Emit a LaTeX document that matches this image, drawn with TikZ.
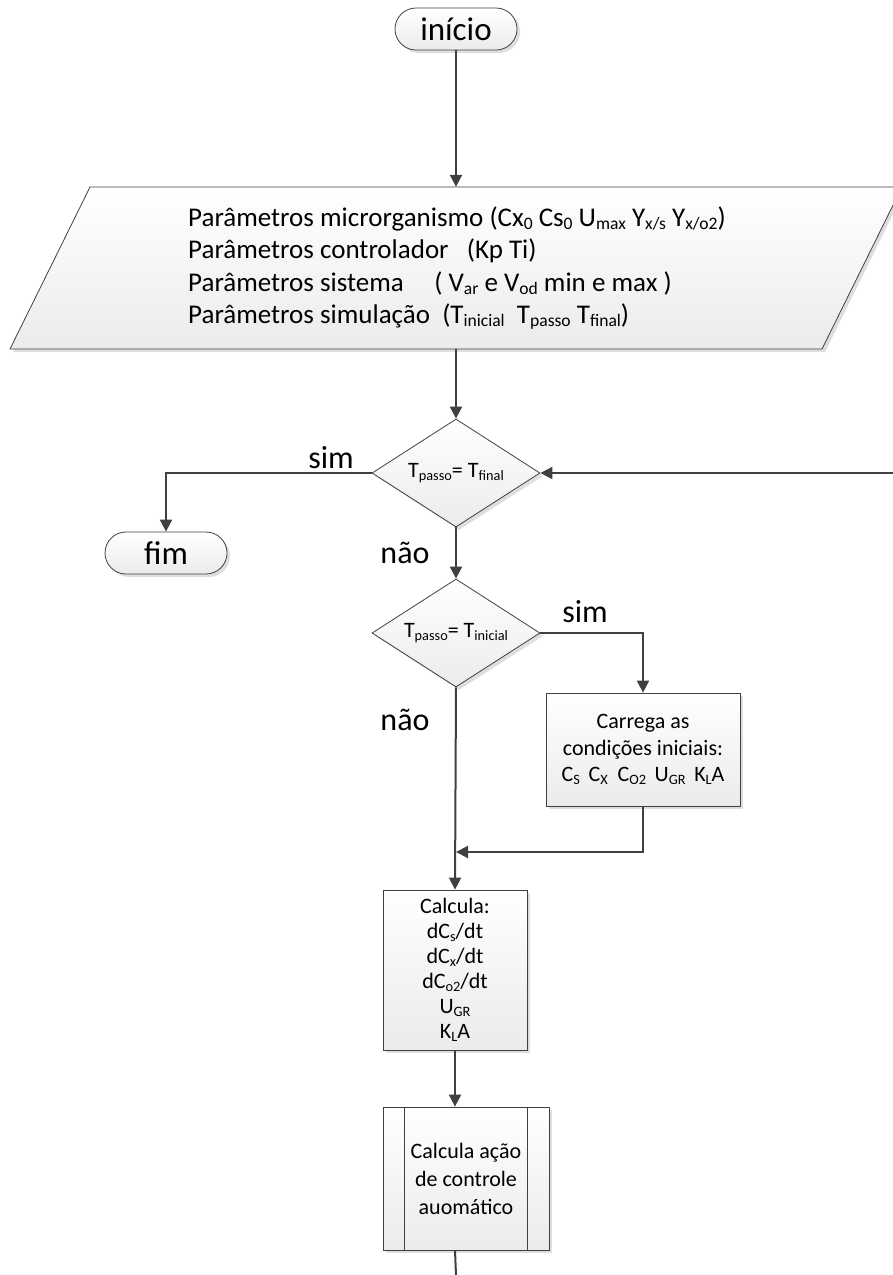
\documentclass[tikz,border=0pt]{standalone}
\usepackage{fontspec}
\setmainfont{Carlito}
\usetikzlibrary{arrows.meta,shapes.geometric,shadows}
\definecolor{ln}{HTML}{404040}
\definecolor{fillbot}{HTML}{EBEBEB}
\newcommand{\lw}[1]{\raisebox{-0.12em}{\scalebox{0.65}{#1}}}
\tikzset{
  conn/.style={draw=ln,line width=2pt,-{Triangle[length=12pt,width=12pt]}},
  plain/.style={draw=ln,line width=2pt},
  shp/.style={draw=ln,line width=0.8pt,top color=white,bottom color=fillbot,
    drop shadow={shadow xshift=3pt,shadow yshift=-3pt,fill=black,opacity=0.13}},
  term/.style={shp,rectangle,rounded corners=21pt,minimum width=122pt,minimum height=42pt,
    inner sep=0pt,font=\fontsize{33}{38}\selectfont},
  dec/.style={shp,diamond,aspect=1.55,minimum width=168pt,minimum height=108pt,inner sep=0pt,
    font=\fontsize{22}{26}\selectfont},
  procbox/.style={shp,rectangle,inner sep=0pt,align=center},
  lbl/.style={font=\fontsize{32}{36}\selectfont,inner sep=0pt}
}
\begin{document}
\begin{tikzpicture}[x=1pt,y=-1pt]
\useasboundingbox (0,0) rectangle (893,1275);
\clip (0,0) rectangle (893,1275);
% start
\node[term] (inicio) at (456,29) {início};
% parallelogram (input)
\path[shp] (90,187) -- (902,187) -- (822,349) -- (10,349) -- cycle;
\node[minimum width=10pt,minimum height=162pt,inner sep=0pt] (params) at (456,268) {};
\node[anchor=west,align=left,inner sep=0pt,font=\fontsize{27}{32.5}\selectfont] (ptext) at (188,268)
 {Parâmetros microrganismo (Cx\lw{0} Cs\lw{0} U\lw{max} Y\lw{x/s} Y\lw{x/o2})\\
  Parâmetros controlador \ \ (Kp Ti)\\
  Parâmetros sistema \ \ \ \ ( V\lw{ar} e V\lw{od} min e max )\\
  Parâmetros simulação \ (T\lw{inicial} \ T\lw{passo} T\lw{final})};
% decisions
\node[dec] (d1) at (456,473) {T\lw{passo}= T\lw{final}};
\node[dec] (d2) at (456,633) {T\lw{passo}= T\lw{inicial}};
% end
\node[term] (fim) at (166,553) {fim};
% load initial conditions
\node[procbox,minimum width=194pt,minimum height=113pt,font=\fontsize{22}{26.5}\selectfont] (carrega) at (643,749.5)
 {Carrega as\\condições iniciais:\\C\lw{S} \,C\lw{X} \ C\lw{O2} \,U\lw{GR} \,K\lw{L}A};
% compute
\node[procbox,minimum width=144pt,minimum height=160pt,font=\fontsize{22}{25}\selectfont] (calc) at (455,970)
 {Calcula:\\dC\lw{s}/dt\\dC\lw{x}/dt\\dC\lw{o2}/dt\\U\lw{GR}\\K\lw{L}A};
% predefined process
\node[procbox,minimum width=166pt,minimum height=143pt,font=\fontsize{22}{28}\selectfont] (cap) at (466,1178.5)
 {Calcula ação\\de controle\\auomático};
\draw[ln,line width=0.8pt] ([xshift=22pt]cap.north west) -- ([xshift=22pt]cap.south west);
\draw[ln,line width=0.8pt] ([xshift=-22pt]cap.north east) -- ([xshift=-22pt]cap.south east);
% coordinates
\coordinate (loop) at (893,473);
\coordinate (merge) at (456,852);
\coordinate (out) at (456,1275);
% connectors
\draw[conn] (inicio.south) -- (params.north);
\draw[conn] (params.south) -- (d1.north);
\draw[conn] (d1.west) -| (fim.north);
\draw[conn] (loop) -- (d1.east);
\draw[conn] (d1.south) -- (d2.north);
\draw[conn] (d2.east) -| (carrega.north);
\draw[conn] (d2.south) -- (calc.north);
\draw[conn] (carrega.south) |- (merge);
\draw[conn] (calc.south) -- (calc.south |- cap.north);
\draw[plain] (calc.south |- cap.south) -- (out);
% labels
\node[lbl] (s1) at (331,458) {sim};
\node[lbl] (n1) at (405,553) {não};
\node[lbl] (s2) at (585,612) {sim};
\node[lbl] (n2) at (405,720) {não};
\end{tikzpicture}
\end{document}
